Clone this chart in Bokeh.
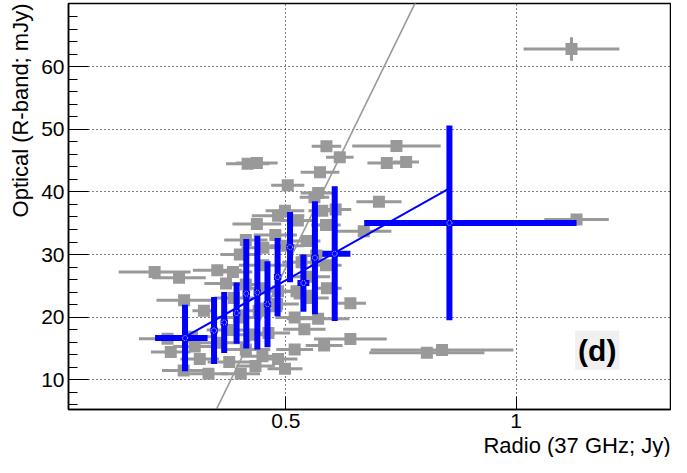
import numpy as np
from bokeh.plotting import figure
from bokeh.models import (Range1d, FixedTicker, NumeralTickFormatter,
                          Title, Label, ColumnDataSource)
from bokeh.embed import file_html
from bokeh.resources import INLINE

# ---------------- data ----------------
# individual observations (grey)
gray_x = [1.120, 0.740, 0.719, 0.761, 0.588, 0.617, 0.417, 0.437, 0.574, 0.504,
          0.570, 0.702, 0.608, 0.587, 0.669, 1.131, 0.806, 0.839, 0.640, 0.640,
          0.583, 0.540, 0.570, 0.215, 0.268, 0.351, 0.279, 0.243, 0.250, 0.278,
          0.332,
          0.483, 0.437, 0.526, 0.413, 0.477, 0.502, 0.545, 0.534, 0.566, 0.587,
          0.385, 0.370, 0.413, 0.449, 0.483, 0.523, 0.555, 0.589, 0.481, 0.441,
          0.398, 0.519, 0.381, 0.462, 0.356, 0.413, 0.449, 0.483, 0.377, 0.434,
          0.313, 0.302, 0.296, 0.562, 0.579, 0.498, 0.451, 0.322, 0.451, 0.400,
          0.549, 0.387, 0.402, 0.498, 0.519, 0.430]
gray_y = [62.83, 47.35, 44.64, 44.80, 47.28, 45.54, 44.49, 44.64, 43.13, 41.05,
          39.85, 38.42, 37.21, 34.71, 33.73, 35.59, 14.33, 14.74, 22.23, 16.50,
          15.46, 18.05, 19.75, 27.23, 26.30, 27.49, 22.69, 16.55, 14.43, 11.49,
          10.98,
          36.21, 34.89, 35.43, 32.34, 33.11, 31.41, 32.18, 28.78, 29.86, 28.31,
          27.23, 25.37, 25.22, 24.60, 24.13, 24.13, 23.05, 24.60, 22.12, 21.04,
          19.95, 19.95, 17.94, 17.48, 15.93, 14.85, 13.76, 13.30, 12.83, 12.21,
          13.30, 15.31, 16.86, 39.15, 36.98, 36.98, 31.10, 21.04, 28.31, 30.02,
          26.46, 23.05, 10.98, 11.75, 14.85, 17.17]
gray_xerr = [0.104, 0.096, 0.042, 0.028, 0.032, 0.030, 0.047, 0.045, 0.042, 0.036,
             0.038, 0.049, 0.034, 0.032, 0.060, 0.070, 0.125, 0.155, 0.034, 0.079,
             0.040, 0.046, 0.068, 0.078, 0.058, 0.053, 0.060, 0.062, 0.043, 0.047,
             0.042,
             0.057, 0.053, 0.038, 0.047, 0.047, 0.038, 0.030, 0.042, 0.038, 0.034,
             0.042, 0.047, 0.051, 0.047, 0.042, 0.038, 0.038, 0.032, 0.047, 0.051,
             0.047, 0.042, 0.053, 0.047, 0.051, 0.053, 0.047, 0.042, 0.047, 0.042,
             0.042, 0.047, 0.042, 0.032, 0.030, 0.042, 0.047, 0.025, 0.053, 0.042,
             0.047, 0.042, 0.042, 0.038, 0.040, 0.045]
gray_yerr = [1.86, 0.6, 0.6, 0.6, 0.6, 0.6, 0.6, 0.6, 0.6, 0.6,
             0.6, 0.6, 0.6, 0.6, 0.6, 0.6, 0.6, 0.6, 0.6, 0.6,
             0.6, 0.6, 0.6, 0.6, 0.6, 0.6, 0.6, 0.6, 0.6, 0.6,
             0.6,
             0.6, 0.6, 0.6, 0.6, 0.6, 0.6, 0.6, 0.6, 0.6, 0.6,
             0.6, 0.6, 0.6, 0.6, 0.6, 0.6, 0.6, 0.6, 0.6, 0.6,
             0.6, 0.6, 0.6, 0.6, 0.6, 0.6, 0.6, 0.6, 0.6, 0.6,
             0.6, 0.6, 0.6, 0.6, 0.6, 0.6, 0.6, 0.6, 0.6, 0.6,
             0.6, 0.6, 0.6, 0.6, 0.6, 0.6]

# binned averages (blue)
bin_x = [0.281, 0.344, 0.366, 0.393, 0.414, 0.438, 0.460, 0.482, 0.509, 0.538, 0.563, 0.606, 0.855]
bin_y = [16.66, 17.86, 19.15, 20.65, 23.75, 23.93, 22.07, 26.41, 31.18, 25.45, 29.50, 30.14, 35.05]
bin_yerr = [5.32, 5.34, 4.88, 4.88, 8.75, 9.08, 6.87, 6.25, 5.60, 4.57, 9.03, 10.76, 15.56]
bin_xerr_lo = [0.065, 0.008, 0.008, 0.008, 0.008, 0.008, 0.008, 0.008, 0.008, 0.013, 0.008, 0.027, 0.185]
bin_xerr_hi = [0.049, 0.008, 0.008, 0.008, 0.008, 0.008, 0.008, 0.008, 0.008, 0.013, 0.008, 0.034, 0.276]

# linear fit to the binned points (blue) and reference relation (grey)
fit_slope, fit_intercept = 41.3, 5.25
rel_slope, rel_intercept = 150.4, -47.24

x_ticks = [0.5, 1.0]
y_ticks = [10, 20, 30, 40, 50, 60]
y_minor_ticks = [6, 8, 12, 14, 16, 18, 22, 24, 26, 28, 32, 34, 36, 38,
                 42, 44, 46, 48, 52, 54, 56, 58, 62, 64, 66, 68]

GRAY = "#999999"
BLUE = "#0000ff"
FONT = "Liberation Sans"

# ---------------- figure ----------------
p = figure(width=671, height=457, output_backend="svg", toolbar_location=None,
           x_range=Range1d(0.028, 1.335), y_range=Range1d(5.25, 70.1),
           min_border_left=67, min_border_right=1, min_border_top=3, min_border_bottom=0)
p.background_fill_color = "white"
p.border_fill_color = "white"
p.outline_line_color = "black"
p.outline_line_width = 1.5

# axes
p.xaxis.ticker = FixedTicker(ticks=x_ticks, minor_ticks=[])
p.xaxis.formatter = NumeralTickFormatter(format="0.[0]")
p.yaxis.ticker = FixedTicker(ticks=y_ticks, minor_ticks=y_minor_ticks)
for ax in (p.xaxis[0], p.yaxis[0]):
    ax.major_tick_out = 0
    ax.minor_tick_out = 0
    ax.axis_line_color = "black"
    ax.axis_line_width = 1.5
    ax.major_tick_line_color = "black"
    ax.minor_tick_line_color = "black"
    ax.major_label_text_font = FONT
    ax.major_label_text_font_size = "21px"
    ax.major_label_text_color = "black"
p.yaxis.major_tick_in = 20
p.yaxis.minor_tick_in = 9
p.yaxis.major_label_standoff = 4
p.xaxis.major_tick_in = 13
p.xaxis.minor_tick_in = 0
p.xaxis.major_label_standoff = 4

# grid
p.xgrid.ticker = FixedTicker(ticks=x_ticks)
p.ygrid.ticker = FixedTicker(ticks=y_ticks)
for g in (p.xgrid[0], p.ygrid[0]):
    g.grid_line_color = "black"
    g.grid_line_dash = "1 3"
    g.grid_line_width = 1

p.add_layout(Title(text="Optical (R-band; mJy)", align="right", text_font=FONT,
                   text_font_size="22px", text_font_style="normal", text_color="black",
                   standoff=11), "left")
p.add_layout(Title(text="Radio (37 GHz; Jy)", align="right", text_font=FONT,
                   text_font_size="22px", text_font_style="normal", text_color="black",
                   standoff=0), "below")

# ---------------- grey points ----------------
gx = np.array(gray_x); gy = np.array(gray_y)
gxe = np.array(gray_xerr); gye = np.array(gray_yerr)
gsrc = ColumnDataSource(dict(x=gx, y=gy, xl=gx - gxe, xh=gx + gxe, yl=gy - gye, yh=gy + gye))
p.segment(x0="xl", y0="y", x1="xh", y1="y", source=gsrc, line_color=GRAY, line_width=3)
p.segment(x0="x", y0="yl", x1="x", y1="yh", source=gsrc, line_color=GRAY, line_width=3)
p.scatter(x="x", y="y", source=gsrc, marker="square", size=12, fill_color=GRAY, line_color=None)

# grey relation line
rel_x = np.array([0.30, 0.82])
p.line(rel_x, rel_slope * rel_x + rel_intercept, line_color=GRAY, line_width=1.6)

# ---------------- blue binned points ----------------
bx = np.array(bin_x); by = np.array(bin_y)
bsrc = ColumnDataSource(dict(x=bx, y=by,
                             xl=bx - np.array(bin_xerr_lo), xh=bx + np.array(bin_xerr_hi),
                             yl=by - np.array(bin_yerr), yh=by + np.array(bin_yerr)))
p.segment(x0="x", y0="yl", x1="x", y1="yh", source=bsrc, line_color=BLUE, line_width=6)
p.segment(x0="xl", y0="y", x1="xh", y1="y", source=bsrc, line_color=BLUE, line_width=6)

fit_x = np.array([bin_x[0], bin_x[-1]])
p.line(fit_x, fit_slope * fit_x + fit_intercept, line_color=BLUE, line_width=2)
p.scatter(x="x", y="y", source=bsrc, marker="circle", size=5, fill_color=BLUE,
          line_color="white", line_width=0.8, line_dash="1 1")

# panel label
p.add_layout(Label(x=1.176, y=14.7, text="(d)", text_font=FONT, text_font_size="30px",
                   text_font_style="bold", text_color="black", text_align="center",
                   text_baseline="middle", background_fill_color="#f0f0f0", padding=3))

open("out.html", "w").write(file_html(p, INLINE))
